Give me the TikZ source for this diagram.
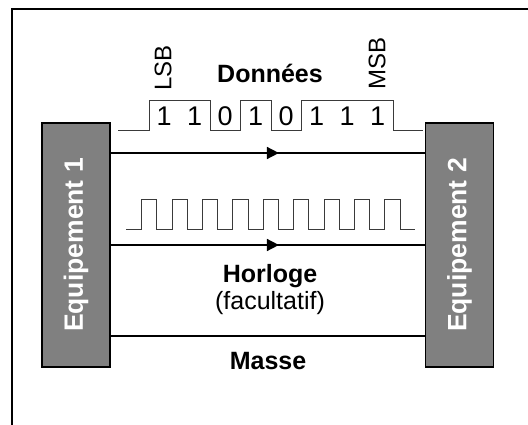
\documentclass[tikz,border=0pt]{standalone}
\usepackage{fontspec}
\setmainfont{Liberation Sans}
\usetikzlibrary{arrows.meta,decorations.markings}
\definecolor{boxgray}{HTML}{808080}
\definecolor{wavegray}{HTML}{3A3A3A}
\tikzset{
  frameline/.style={line width=1.6pt,black},
  eqbox/.style={draw=black,line width=1.8pt,fill=boxgray,minimum width=68pt,minimum height=244pt,inner sep=0pt},
  eqlabel/.style={text=white,font=\fontsize{26.5}{30}\selectfont\bfseries,rotate=90,inner sep=0pt},
  wire/.style={line width=1.6pt,black},
  midarrow/.style={postaction={decorate},decoration={markings,
      mark=at position 168pt with {\arrow{Triangle[length=12pt,width=12pt]}}}},
  wave/.style={line width=1pt,wavegray,line join=miter},
  bitlabel/.style={font=\fontsize{27}{31}\selectfont,inner sep=0pt},
  title/.style={font=\fontsize{25}{29}\selectfont\bfseries,inner sep=0pt},
  plain/.style={font=\fontsize{25}{29}\selectfont,inner sep=0pt},
  sidelabel/.style={font=\fontsize{24}{28}\selectfont,rotate=90,anchor=west,inner sep=0pt}
}
\begin{document}
\begin{tikzpicture}[x=1pt,y=-1pt]
\useasboundingbox (0,0) rectangle (528,425);
% outer frame (open to the right and bottom)
\draw[frameline] (532,9) -- (12,9) -- (12,430);

% the two devices
\node[eqbox] (e1) at (76,245) {};
\node[eqbox] (e2) at (459.5,245) {};
\node[eqlabel] (e1t) at (e1) {Equipement 1};
\node[eqlabel] (e2t) at (e2) {Equipement 2};

% data, clock and ground wires
\draw[wire,midarrow] (e1.east |- 0,153) -- (e2.west |- 0,153);
\draw[wire,midarrow] (e1.east |- 0,245) -- (e2.west |- 0,245);
\draw[wire] (e1.east |- 0,336) -- (e2.west |- 0,336);

% data frame 11010111
\draw[wave] (118,131) -- (149,131) -- (149,101) -- (210,101) -- (210,131)
  -- (240.5,131) -- (240.5,101) -- (271,101) -- (271,131) -- (301.5,131)
  -- (301.5,101) -- (393,101) -- (393,131) -- (423,131);
\foreach \b [count=\i] in {1,1,0,1,0,1,1,1}{
  \node[bitlabel] (bit\i) at ({149+30.5*(\i-0.5)},116) {\b};
}

% clock signal
\draw[wave] (126,230)
  \foreach \k in {0,...,8}{ -- ({141.7+30.4*\k},230) -- ({141.7+30.4*\k},200)
    -- ({156.9+30.4*\k},200) -- ({156.9+30.4*\k},230) } -- (415,230);

% labels
\node[sidelabel] (lsb) at (163,91) {LSB};
\node[sidelabel] (msb) at (377,90) {MSB};
\node[title] (don) at (270,73) {Données};
\node[title] (hor) at (270,276) {Horloge};
\node[plain] (fac) at (270,303) {(facultatif)};
\node[title] (mas) at (268,361) {Masse};
\end{tikzpicture}
\end{document}
